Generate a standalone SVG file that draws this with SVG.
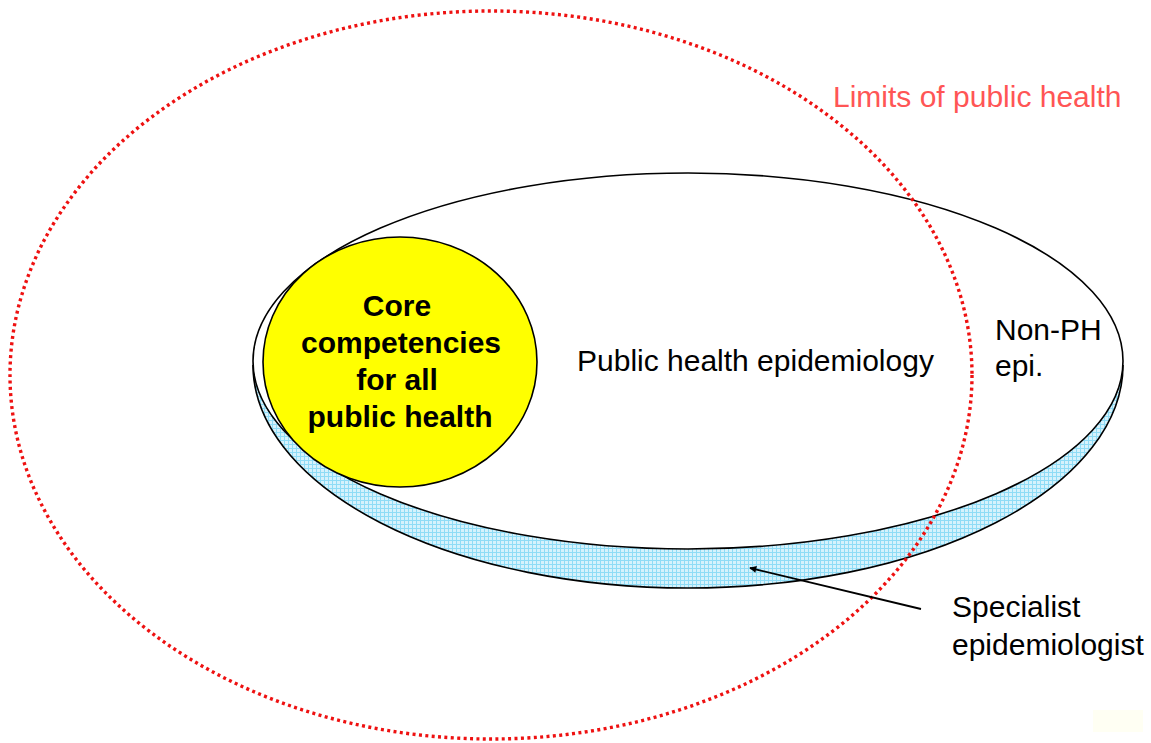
<svg xmlns="http://www.w3.org/2000/svg" width="1151" height="743" viewBox="0 0 1151 743">
  <defs>
    <style>
      .lbl { font-family: "Liberation Sans", Arial, sans-serif; font-size: 30px; fill: #000; }
      .core { font-family: "Liberation Sans", Arial, sans-serif; font-size: 30px; font-weight: bold; fill: #000; text-anchor: middle; }
      .edge { stroke: #000; stroke-width: 1.6; }
    </style>
    <!-- fine cyan grid used for the side of the disc -->
    <pattern id="grid" width="4" height="4" patternUnits="userSpaceOnUse">
      <rect width="4" height="4" fill="#d6f2fc"/>
      <path d="M0 0.5H4M0.5 0V4" stroke="#8fdcf6" stroke-width="1"/>
    </pattern>
    <marker id="arrow" viewBox="0 0 10 10" refX="9" refY="5" markerWidth="8" markerHeight="7" orient="auto" markerUnits="userSpaceOnUse">
      <path d="M0,0 L10,5 L0,10 z" fill="#000"/>
    </marker>
  </defs>

  <rect width="1151" height="743" fill="#fff"/>
  <rect x="1093" y="710" width="50" height="22" fill="#fffff3"/>

  <!-- epidemiology disc: lower rim (deeper half-ellipse) then top face -->
  <g id="disc">
    <path d="M253,365 A435,223 0 0 0 1123,365 Z" fill="url(#grid)"/>
    <path d="M253,365 A435,223 0 0 0 1123,365" fill="none" class="edge"/>
    <ellipse cx="688" cy="361" rx="435" ry="188" fill="#fff" class="edge"/>
  </g>

  <g id="core">
    <ellipse cx="400" cy="362" rx="137" ry="125" fill="#ffff00" class="edge"/>
    <text class="core" x="397" y="316">Core</text>
    <text class="core" x="401" y="353">competencies</text>
    <text class="core" x="397" y="390">for all</text>
    <text class="core" x="400" y="427">public health</text>
  </g>

  <g id="ph-epi">
    <text class="lbl" x="577" y="371">Public health epidemiology</text>
  </g>

  <g id="non-ph">
    <text class="lbl" x="995" y="340">Non-PH</text>
    <text class="lbl" x="995" y="376">epi.</text>
  </g>

  <g id="limits">
    <ellipse cx="491" cy="375" rx="481" ry="364" fill="none" stroke="#ee1111" stroke-width="3.4" stroke-dasharray="3 3.4"/>
    <text x="833" y="107" font-family="Liberation Sans, Arial, sans-serif" font-size="30" fill="#ff5555">Limits of public health</text>
  </g>

  <g id="specialist">
    <text class="lbl" x="952" y="617">Specialist</text>
    <text class="lbl" x="952" y="655">epidemiologist</text>
  </g>

  <g id="connectors">
    <line x1="921" y1="609" x2="750" y2="568" stroke="#000" stroke-width="1.8" marker-end="url(#arrow)"/>
  </g>
</svg>
